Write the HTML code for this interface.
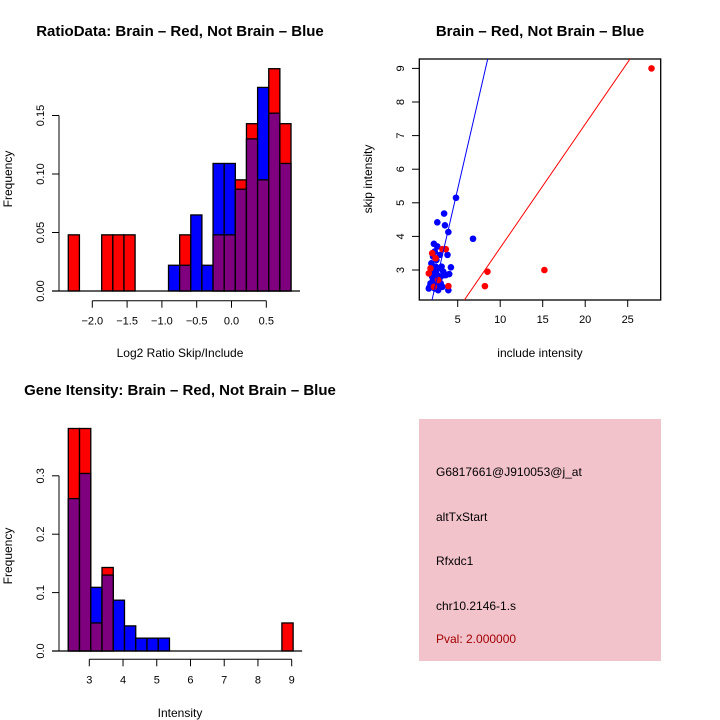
<!DOCTYPE html>
<html><head><meta charset="utf-8"><style>
body{margin:0;background:#fff}
svg{display:block;font-family:"Liberation Sans",sans-serif}
</style></head><body>
<svg width="720" height="720" viewBox="0 0 720 720">
<g id="h1"></g>
<g id="sc"></g>
<g id="h2"></g>
<g>
<rect x="419" y="419" width="242" height="242" fill="#f3c3cc"/>
<g font-size="12" fill="#000">
<text x="436" y="476">G6817661@J910053@j_at</text>
<text x="436" y="521">altTxStart</text>
<text x="436" y="565">Rfxdc1</text>
<text x="436" y="610">chr10.2146-1.s</text>
<text x="436" y="643" fill="#a00000">Pval: 2.000000</text>
</g></g>
</svg>
<script>
const NS="http://www.w3.org/2000/svg";
// Ratio histogram data
const ratioStart=-2.345, ratioBinW=0.16;
const ratioRed=[0.048,0,0,0.048,0.048,0.048,0,0,0,0,0.048,0,0,0.048,0.048,0.095,0.143,0.095,0.190,0.143];
const ratioBlue=[0,0,0,0,0,0,0,0,0,0.022,0.022,0.065,0.022,0.109,0.109,0.087,0.130,0.174,0.152,0.109];
const ratioXTicks=[-2.0,-1.5,-1.0,-0.5,0.0,0.5];
const ratioYTicks=[0.00,0.05,0.10,0.15];
// Intensity histogram data
const intStart=2.377, intBinW=0.3333;
const intRed=[0.381,0.381,0.048,0.143,0,0,0,0,0,0,0,0,0,0,0,0,0,0,0,0.048];
const intBlue=[0.261,0.304,0.109,0.130,0.087,0.043,0.022,0.022,0.022,0,0,0,0,0,0,0,0,0,0,0];
const intXTicks=[3,4,5,6,7,8,9];
const intYTicks=[0.0,0.1,0.2,0.3];
// Scatter data
const redX=[27.8,15.2,8.5,8.2,3.9,3.2,3.6,2.0,1.8,1.6,2.2,2.4,2.7];
const redY=[9.0,3.0,2.95,2.52,2.52,3.62,3.62,3.5,3.05,2.9,2.5,3.35,2.7];
const blueX=[4.8,3.4,2.6,3.5,3.9,6.8,3.8,4.2,4.0,3.9,2.2,2.6,2.9,2.1,2.3,2.5,1.9,2.0,2.4,2.8,3.1,3.3,2.2,2.6,3.0,1.6,1.8,2.1,2.5,2.9,3.4,2.3,2.7,3.2,2.0,2.4,2.8,3.6,1.7,2.2,2.6,3.0];
const blueY=[5.15,4.68,4.42,4.33,4.13,3.93,3.45,3.08,2.88,2.4,3.78,3.7,3.45,3.4,3.55,3.3,3.2,3.0,3.1,3.05,3.1,2.95,2.9,2.85,2.8,2.45,2.6,2.7,2.65,2.55,2.85,2.45,2.4,2.5,2.8,2.95,2.7,2.85,2.5,2.55,2.75,2.6];
const blueLine=[[1.98,2.107],[8.53,9.28]];
const redLine=[[5.78,2.107],[25.27,9.28]];
const scXTicks=[5,10,15,20,25];
const scYTicks=[3,4,5,6,7,8,9];

function el(p,tag,attrs,name,inter){const e=document.createElementNS(NS,tag);for(const k in attrs)e.setAttribute(k,attrs[k]);


p.appendChild(e);return e;}
function txt(p,x,y,s,name,opt){const t=el(p,'text',Object.assign({x:x,y:y,'font-size':12,'text-anchor':'middle'},opt||{}),name);t.textContent=s;return t;}

function hist(g,o){
  const X=v=>o.x0+(v-o.v0)*o.kx, Y=v=>o.y0-v*o.ky;
  for(let i=0;i<o.red.length;i++){
    const a=o.start+i*o.bw,b=a+o.bw,r=o.red[i],bl=o.blue[i];
    const mx=Math.max(r,bl),mn=Math.min(r,bl);
    if(mx<=0)continue;
    el(g,'rect',{x:X(a),y:Y(mx),width:X(b)-X(a),height:Y(0)-Y(mx),fill:r>=bl?'#ff0000':'#0000ff',stroke:'#000','stroke-width':1.3},'bar-'+i);
    if(mn>0)el(g,'rect',{x:X(a),y:Y(mn),width:X(b)-X(a),height:Y(0)-Y(mn),fill:'#7f007f',stroke:'#000','stroke-width':1.3},'bar-overlap-'+i);
  }
  el(g,'line',{x1:o.axL,x2:X(o.start+o.red.length*o.bw)+9,y1:Y(0),y2:Y(0),stroke:'#000','stroke-width':1.3},'baseline');
  const yt=o.yt;
  el(g,'line',{x1:59,x2:59,y1:Y(yt[0]),y2:Y(yt[yt.length-1]),stroke:'#000'},'y-axis');
  yt.forEach(v=>{el(g,'line',{x1:52,x2:59,y1:Y(v),y2:Y(v),stroke:'#000'},'y-tick');
    txt(g,44,Y(v),o.yfmt(v),'y-tick-label',{transform:`rotate(-90 44 ${Y(v)})`,'font-size':11});});
  const xt=o.xt, ay=o.axY;
  el(g,'line',{x1:X(xt[0]),x2:X(xt[xt.length-1]),y1:ay,y2:ay,stroke:'#000'},'x-axis');
  xt.forEach(v=>{el(g,'line',{x1:X(v),x2:X(v),y1:ay,y2:ay+7,stroke:'#000'},'x-tick');
    txt(g,X(v),ay+24,o.xfmt(v),'x-tick-label',{'font-size':11});});
  txt(g,o.xlx,o.xly,o.xlab,'x-axis-title');
  txt(g,12,o.ylc,'Frequency','y-axis-title',{transform:`rotate(-90 12 ${o.ylc})`});
  txt(g,o.tx,o.ty,o.title,'chart-title',{'font-weight':'bold','font-size':15});
}
hist(document.getElementById('h1'),{x0:92.3,v0:-2,kx:69.6,y0:291,ky:58.5/0.05,start:ratioStart,bw:ratioBinW,red:ratioRed,blue:ratioBlue,
 axL:52,xt:ratioXTicks,yt:ratioYTicks,axY:300.7,xfmt:v=>v.toFixed(1).replace('-','\u2212'),yfmt:v=>v.toFixed(2),
 xlab:'Log2 Ratio Skip/Include',xlx:180,xly:357,ylc:179,title:'RatioData: Brain \u2013 Red, Not Brain \u2013 Blue',tx:180,ty:36});
hist(document.getElementById('h2'),{x0:89.3,v0:3,kx:33.73,y0:651,ky:58.4/0.1,start:intStart,bw:intBinW,red:intRed,blue:intBlue,
 axL:52,xt:intXTicks,yt:intYTicks,axY:659.3,xfmt:v=>String(v),yfmt:v=>v.toFixed(1),
 xlab:'Intensity',xlx:180,xly:717,ylc:556,title:'Gene Itensity: Brain \u2013 Red, Not Brain \u2013 Blue',tx:180,ty:395});

(function(){
  const g=document.getElementById('sc');
  const X=v=>457.7+(v-5)*8.5, Y=v=>270-(v-3)*33.6;
  const cp=el(g,'clipPath',{id:'scclip'},'clip');
  el(cp,'rect',{x:419.3,y:59,width:241.4,height:241},'clip-rect');
  el(g,'rect',{x:419.3,y:59,width:241.4,height:241,fill:'none',stroke:'#000','stroke-width':1.3},'plot-box');
  const pts=el(g,'g',{'clip-path':'url(#scclip)'},'points');
  for(let i=0;i<blueX.length;i++)el(pts,'circle',{cx:X(blueX[i]),cy:Y(blueY[i]),r:3.3,fill:'#0000ff'},'blue-point');
  for(let i=0;i<redX.length;i++)el(pts,'circle',{cx:X(redX[i]),cy:Y(redY[i]),r:3.3,fill:'#ff0000'},'red-point');
  el(pts,'line',{x1:X(blueLine[0][0]),y1:Y(blueLine[0][1]),x2:X(blueLine[1][0]),y2:Y(blueLine[1][1]),stroke:'#0000ff'},'blue-fit-line');
  el(pts,'line',{x1:X(redLine[0][0]),y1:Y(redLine[0][1]),x2:X(redLine[1][0]),y2:Y(redLine[1][1]),stroke:'#ff0000'},'red-fit-line');
  scXTicks.forEach(v=>{el(g,'line',{x1:X(v),x2:X(v),y1:300,y2:307,stroke:'#000'},'x-tick');txt(g,X(v),323,String(v),'x-tick-label',{'font-size':11});});
  scYTicks.forEach(v=>{el(g,'line',{x1:412,x2:419.3,y1:Y(v),y2:Y(v),stroke:'#000'},'y-tick');
    txt(g,404,Y(v),String(v),'y-tick-label',{transform:`rotate(-90 404 ${Y(v)})`,'font-size':11});});
  txt(g,540,357,'include intensity','x-axis-title');
  txt(g,372,179,'skip intensity','y-axis-title',{transform:'rotate(-90 372 179)'});
  txt(g,540,36,'Brain \u2013 Red, Not Brain \u2013 Blue','chart-title',{'font-weight':'bold','font-size':15});
})();
</script>
</body></html>
